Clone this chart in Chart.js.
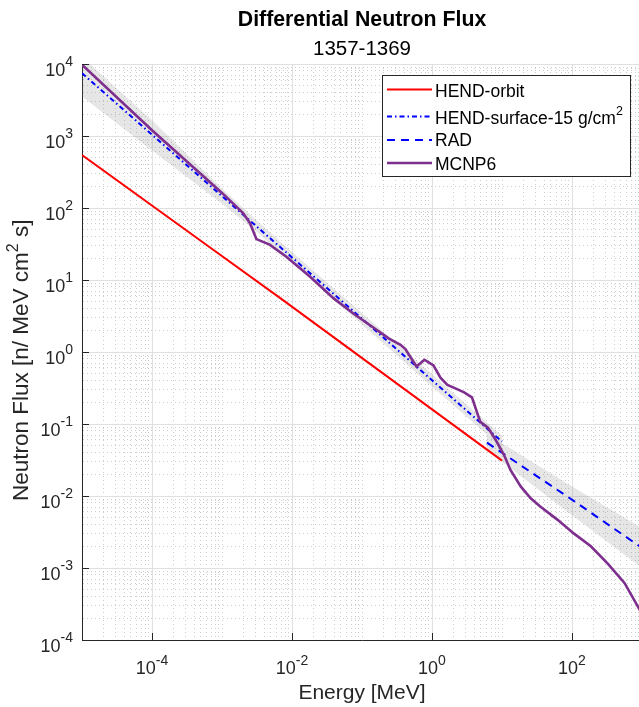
<!DOCTYPE html>
<html><head><meta charset="utf-8">
<script src="https://cdn.jsdelivr.net/npm/chart.js@4.4.0/dist/chart.umd.min.js"></script>
<style>html,body{margin:0;padding:0;overflow:hidden;background:#fff}#wrap{width:642px;height:707px}</style>
</head><body><div id="wrap"><canvas id="c" width="642" height="707"></canvas></div>
<script>
// ---------- texts ----------
const titleText = 'Differential Neutron Flux';
const subtitleText = '1357-1369';
const xAxisTitle = 'Energy [MeV]';
const yAxisTitleParts = ['Neutron Flux [n/ MeV cm', '2', ' s]'];
const legendLabels = ['HEND-orbit', 'HEND-surface-15 g/cm', 'RAD', 'MCNP6'];
const legendSuperscripts = ['', '2', '', ''];

// ---------- ticks ----------
const xTickValues = [1e-4, 1e-2, 1, 1e2];
const xTickExponents = ['-4', '-2', '0', '2'];
const yTickValues = [1e-4, 1e-3, 1e-2, 1e-1, 1, 1e1, 1e2, 1e3, 1e4];
const yTickExponents = ['-4', '-3', '-2', '-1', '0', '1', '2', '3', '4'];

// ---------- data ----------
const hendOrbitEnergy = [1e-5, 4.8e-4, 6.8e-3, 10];
const hendOrbitFlux = [545, 36, 5.6, 0.031];

const hendSurfEnergy = [1e-5, 10];
const hendSurfFlux = [7430, 0.057];
const hendBandEnergy = [1e-5, 1e-4, 1e-3, 3.2e-3, 1e-2, 0.1, 1, 10];
const hendBandHigh = [12600, 1660, 186, 66, 24.5, 3.47, 0.49, 0.069];
const hendBandLow = [3550, 631, 115, 45.7, 17.4, 2.40, 0.331, 0.0468];

const radEnergy = [6.1, 107, 1000];
const radFlux = [0.055, 0.0085, 0.0019];
const radBandEnergy = [6.1, 10, 100, 1000];
const radBandHigh = [0.069, 0.054, 0.0135, 0.0036];
const radBandLow = [0.044, 0.030, 0.0054, 0.0010];

const mcnpEnergy = [1e-5, 1e-4, 1e-3, 2.0e-3, 2.5e-3, 3.1e-3, 4.8e-3, 8.3e-3, 0.018, 0.039, 0.076, 0.145, 0.24, 0.355, 0.417, 0.60, 0.78, 1.05, 1.32, 1.66, 2.04, 2.88, 3.72, 4.0, 4.9, 6.3, 7.9, 10.7, 13.2, 18.6, 25.7, 35.5, 61.7, 107, 186, 324, 562, 933, 1000];
const mcnpFlux = [9770, 1200, 162, 85, 62, 37, 31, 21, 11.2, 5.6, 3.4, 2.19, 1.55, 1.26, 1.10, 0.63, 0.78, 0.65, 0.44, 0.35, 0.32, 0.275, 0.234, 0.19, 0.107, 0.089, 0.063, 0.037, 0.023, 0.0135, 0.0093, 0.0071, 0.0047, 0.0030, 0.0020, 0.00115, 0.00062, 0.00026, 0.000234];

// ---------- styling ----------
const FONT = '"Liberation Sans", Arial, Helvetica, sans-serif';
const AX = '#262626';
const RED = '#ff0000', BLUE = '#0000ff', PURPLE = '#7e2f8e';
const BAND = 'rgba(120,120,120,0.19)';
const DASHDOT = [5, 3, 1.5, 3];
const DASHED = [8, 6];
const MINOR_GRID = '#cdcdcd', MAJOR_GRID = '#e0e0e0';

const pts = (xs, ys) => xs.map((x, i) => ({x: x, y: ys[i]}));
const isDecade = v => { const l = Math.log10(v); return Math.abs(l - Math.round(l)) < 1e-6; };
const isMajorX = v => isDecade(v) && Math.round(Math.log10(v)) % 2 === 0;
const isMajorY = v => isDecade(v);
function logTicks(minExp, maxExp) {
  const t = [];
  for (let e = minExp; e < maxExp; e++) for (let k = 1; k < 10; k++) t.push({value: +(k * Math.pow(10, e)).toPrecision(6)});
  t.push({value: Math.pow(10, maxExp)});
  return t;
}

const overlay = {
  id: 'overlay',
  afterDraw(chart) {
    const ctx = chart.ctx, xs = chart.scales.x, ys = chart.scales.y, ca = chart.chartArea;
    const cx = (ca.left + ca.right) / 2, cy = (ca.top + ca.bottom) / 2;
    ctx.save();
    // tick marks (inward)
    ctx.strokeStyle = AX; ctx.lineWidth = 1;
    ctx.beginPath();
    xTickValues.forEach(v => { const p = Math.round(xs.getPixelForValue(v)) + 0.5; ctx.moveTo(p, ca.bottom); ctx.lineTo(p, ca.bottom - 7); });
    yTickValues.forEach(v => { const p = Math.round(ys.getPixelForValue(v)) + 0.5; ctx.moveTo(ca.left, p); ctx.lineTo(ca.left + 7, p); });
    ctx.stroke();
    // tick labels
    ctx.fillStyle = AX; ctx.textBaseline = 'alphabetic';
    const base = '18px ' + FONT, sup = '14px ' + FONT;
    xTickValues.forEach((v, i) => {
      const p = xs.getPixelForValue(v);
      ctx.font = base; const w1 = ctx.measureText('10').width;
      ctx.font = sup; const w2 = ctx.measureText(xTickExponents[i]).width;
      const x0 = p - (w1 + w2) / 2;
      ctx.textAlign = 'left';
      ctx.font = base; ctx.fillText('10', x0, ca.bottom + 34);
      ctx.font = sup; ctx.fillText(xTickExponents[i], x0 + w1, ca.bottom + 25);
    });
    yTickValues.forEach((v, i) => {
      const p = ys.getPixelForValue(v);
      ctx.font = base; const w1 = ctx.measureText('10').width;
      ctx.font = sup; const w2 = ctx.measureText(yTickExponents[i]).width;
      const xr = ca.left - 9;
      ctx.textAlign = 'left';
      ctx.font = base; ctx.fillText('10', xr - w2 - w1, p + 11.5);
      ctx.font = sup; ctx.fillText(yTickExponents[i], xr - w2, p + 1.5);
    });
    // axis titles
    ctx.font = '21px ' + FONT; ctx.textAlign = 'center';
    ctx.fillText(xAxisTitle, cx, 699);
    ctx.save();
    ctx.translate(28, 501); ctx.rotate(-Math.PI / 2);
    ctx.textAlign = 'left';
    const yf = '22.5px ' + FONT, ysf = '16px ' + FONT;
    ctx.font = yf; const a = ctx.measureText(yAxisTitleParts[0]).width;
    ctx.font = ysf; const b = ctx.measureText(yAxisTitleParts[1]).width;
    ctx.font = yf; ctx.fillText(yAxisTitleParts[0], 0, 0);
    ctx.font = ysf; ctx.fillText(yAxisTitleParts[1], a, -10);
    ctx.font = yf; ctx.fillText(yAxisTitleParts[2], a + b, 0);
    ctx.restore();
    // title
    ctx.fillStyle = '#000'; ctx.textAlign = 'center';
    ctx.font = 'bold 21.3px ' + FONT; ctx.fillText(titleText, cx, 25.5);
    ctx.font = '20.5px ' + FONT; ctx.fillText(subtitleText, cx, 55);
    // legend
    const lx = 382.5, ly = 75.5, lw = 248, lh = 101;
    ctx.fillStyle = '#fff'; ctx.fillRect(lx, ly, lw, lh);
    ctx.strokeStyle = AX; ctx.lineWidth = 1; ctx.strokeRect(lx, ly, lw, lh);
    const rowsLine = [89.5, 116.5, 140, 163];
    const rowsText = [97, 123.5, 146, 169.5];
    const dsIdx = [0, 1, 2, 3];
    ctx.textAlign = 'left';
    dsIdx.forEach((di, i) => {
      const ds = chart.data.datasets[di];
      ctx.save();
      ctx.strokeStyle = ds.borderColor; ctx.lineWidth = ds.borderWidth;
      ctx.setLineDash(ds.borderDash || []);
      ctx.beginPath(); ctx.moveTo(387, rowsLine[i]); ctx.lineTo(432, rowsLine[i]); ctx.stroke();
      ctx.restore();
      ctx.fillStyle = '#000';
      ctx.font = '17.5px ' + FONT;
      ctx.fillText(legendLabels[i], 435, rowsText[i]);
      if (legendSuperscripts[i]) {
        const w = ctx.measureText(legendLabels[i]).width;
        ctx.font = '12.5px ' + FONT;
        ctx.fillText(legendSuperscripts[i], 435 + w, rowsText[i] - 9);
      }
    });
    ctx.restore();
  }
};

const lineDs = (label, data, color, width, dash, order) => ({
  label, data, borderColor: color, borderWidth: width, borderDash: dash, pointRadius: 0,
  fill: false, tension: 0, order
});

new Chart(document.getElementById('c'), {
  type: 'line',
  data: {
    datasets: [
      lineDs('HEND-orbit', pts(hendOrbitEnergy, hendOrbitFlux), RED, 2, [], 3),
      lineDs('HEND-surface-15 g/cm2', pts(hendSurfEnergy, hendSurfFlux), BLUE, 2, DASHDOT, 2),
      lineDs('RAD', pts(radEnergy, radFlux), BLUE, 2, DASHED, 1),
      lineDs('MCNP6', pts(mcnpEnergy, mcnpFlux), PURPLE, 2.6, [], 0),
      {label: 'hendHigh', data: pts(hendBandEnergy, hendBandHigh), borderWidth: 0, borderColor: 'rgba(0,0,0,0)', pointRadius: 0, backgroundColor: BAND, fill: '+1', order: 10},
      {label: 'hendLow', data: pts(hendBandEnergy, hendBandLow), borderWidth: 0, borderColor: 'rgba(0,0,0,0)', pointRadius: 0, fill: false, order: 11},
      {label: 'radHigh', data: pts(radBandEnergy, radBandHigh), borderWidth: 0, borderColor: 'rgba(0,0,0,0)', pointRadius: 0, backgroundColor: BAND, fill: '+1', order: 12},
      {label: 'radLow', data: pts(radBandEnergy, radBandLow), borderWidth: 0, borderColor: 'rgba(0,0,0,0)', pointRadius: 0, fill: false, order: 13}
    ]
  },
  options: {
    responsive: false, animation: false, devicePixelRatio: 1, events: [],
    layout: {padding: {top: 64, left: 0, right: 0, bottom: 0}},
    plugins: {legend: {display: false}, tooltip: {enabled: false}, title: {display: false}},
    scales: {
      x: {
        type: 'logarithmic', min: 1e-5, max: 1e3,
        ticks: {display: false},
        afterBuildTicks: s => { s.ticks = logTicks(-5, 3); },
        afterFit: s => { s.height = 67; },
        grid: {drawTicks: false, lineWidth: 1, color: c => (c.tick && !isMajorX(c.tick.value)) ? MINOR_GRID : MAJOR_GRID},
        border: {display: true, color: AX, width: 1, dash: c => (c.tick && !isMajorX(c.tick.value)) ? [1, 3] : []}
      },
      y: {
        type: 'logarithmic', min: 1e-4, max: 1e4,
        ticks: {display: false},
        afterBuildTicks: s => { s.ticks = logTicks(-4, 4); },
        afterFit: s => { s.width = 82; },
        grid: {drawTicks: false, lineWidth: 1, color: c => (c.tick && !isMajorY(c.tick.value)) ? MINOR_GRID : MAJOR_GRID},
        border: {display: true, color: AX, width: 1, dash: c => (c.tick && !isMajorY(c.tick.value)) ? [1, 3] : []}
      }
    }
  },
  plugins: [overlay]
});
</script></body></html>
